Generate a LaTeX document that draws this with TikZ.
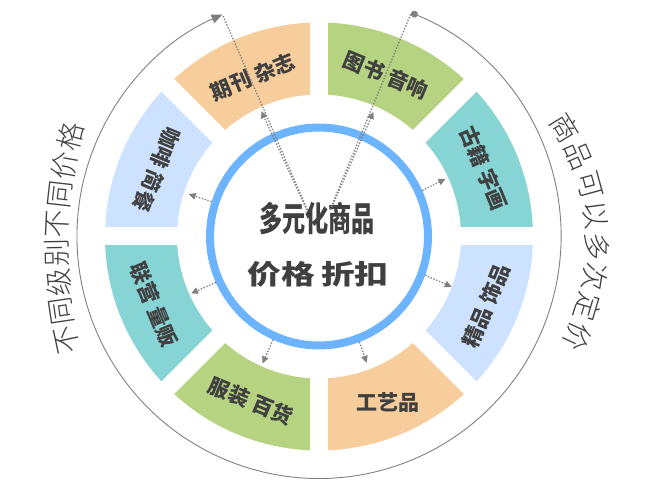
\documentclass[tikz,border=0pt]{standalone}
\usepackage{fontspec}
\setmainfont{Noto Sans CJK SC}
\newfontfamily\heavy{Noto Sans CJK SC Black}
\newfontfamily\thin{Noto Sans CJK SC Light}
\usepackage{tikz}
\usetikzlibrary{arrows.meta, calc}
\definecolor{segteal}{HTML}{86D4D3}
\definecolor{seggreen}{HTML}{B5D381}
\definecolor{segorange}{HTML}{F7CD9B}
\definecolor{segblue}{HTML}{CCE2FF}
\definecolor{ringblue}{HTML}{6CB4FF}
\definecolor{inkgray}{HTML}{404040}
\definecolor{linegray}{HTML}{808080}

\begin{document}
\begin{tikzpicture}[
    x=1pt, y=1pt,
    seglabel/.style={font=\fontsize{21}{21}\selectfont\heavy, text=inkgray, inner sep=0pt},
    sidelabel/.style={font=\fontsize{28}{28}\selectfont\thin, text=inkgray, inner sep=0pt},
    hubring/.style={circle, draw=ringblue, line width=8pt, minimum size=218pt, inner sep=0pt},
    dotline/.style={draw=linegray, line width=1.3pt, dash pattern=on 1.4pt off 1.6pt},
    dotarrow/.style={dotline, -{Triangle[length=7pt, width=6.5pt]}},
    outerarc/.style={draw=linegray, line width=0.9pt, {Circle[length=7pt]}-{Triangle[length=11pt, width=9pt]}}
]
    \useasboundingbox (-319,-258.5) rectangle (331,236.5);

    % ring segments
    \foreach \k/\c in {0/segteal, 1/seggreen, 2/segorange, 3/segblue, 4/segteal, 5/seggreen, 6/segorange, 7/segblue} {
        \pgfmathsetmacro\a{45*\k}
        \fill[\c] (\a:142) arc[start angle=\a, end angle=\a+45, radius=142]
            -- (\a+45:214) arc[start angle=\a+45, end angle=\a, radius=214] -- cycle;
    }
    \foreach \a in {0, 45, 90, 135} {
        \draw[white, line width=18] (\a:130) -- (\a:226);
        \draw[white, line width=18] (\a+180:130) -- (\a+180:226);
    }

    \node[hubring] (hub) at (0,0) {};
    \node[font=\fontsize{34}{34}\selectfont\heavy, text=inkgray] (title) at (-2,17.5) {\scalebox{0.68}[1]{多元化商品}};
    \node[font=\fontsize{27}{27}\selectfont\heavy, text=inkgray] (price) at (-1,-38) {\scalebox{1.25}[1]{价格\hspace{5pt}折扣}};

    \node[seglabel, rotate=-67.5] (art) at (22.5:179) {古籍 字画};
    \node[seglabel, rotate=-22.5] (books) at (67.5:175) {图书 音响};
    \node[seglabel, rotate=22.5] (mags) at (112.5:173) {期刊 杂志};
    \node[seglabel, rotate=247.5] (cafe) at (157.5:175) {咖啡 简餐};
    \node[seglabel, rotate=-67.5] (jointop) at (202.5:179) {联营 量贩};
    \node[seglabel, rotate=-22.5] (clothes) at (247.5:178) {服装 百货};
    \node[seglabel] (crafts) at (292.5:180) {工艺品};
    \node[seglabel, rotate=67.5] (gifts) at (337.5:181) {精品 饰品};

    % side captions along arcs
    \coordinate (lc) at (188,-8.5);
    \coordinate (rc) at (56,-7.5);
    \foreach \ch [count=\i from 0] in {不,同,级,别,不,同,价,格} {
        \pgfmathsetmacro\ang{192.2-3.73*\i}
        \node[sidelabel, rotate=\ang-90] (lside-\i) at ([shift={(\ang:450)}]lc) {\ch};
    }
    \foreach \ch [count=\i from 0] in {商,品,可,以,多,次,定,价} {
        \pgfmathsetmacro\ang{31.4-8*\i}
        \node[sidelabel, rotate=\ang-90] (rside-\i) at ([shift={(\ang:222)}]rc) {\ch};
    }

    % dotted arrows
    \foreach \a/\r/\n in {162/137/cafe, 24.5/139/art, 204/140/join, -20.8/142/gifts, 246/139/clothes, -69.3/135/crafts} {
        \coordinate (tip-\n) at (\a:\r);
        \draw[dotarrow] (hub.\a) -- (tip-\n);
    }
    \coordinate (arcstart) at (67.6:242);
    \coordinate (arcend) at (113.5:242);
    \coordinate (ls) at (113.5:29);
    \coordinate (lsa) at (114.7:29);
    \coordinate (lt) at (114.7:138);
    \coordinate (rs) at (67.6:29);
    \coordinate (rsa) at (66.4:29);
    \coordinate (rt) at (66.4:136);
    \draw[dotline] (ls) -- (arcend);
    \draw[dotarrow] (lsa) -- (lt);
    \draw[dotline] (rs) -- (arcstart);
    \draw[dotarrow] (rsa) -- (rt);

    \draw[outerarc] (arcstart) arc[start angle=67.6, end angle=-246.5, radius=242];
\end{tikzpicture}
\end{document}
